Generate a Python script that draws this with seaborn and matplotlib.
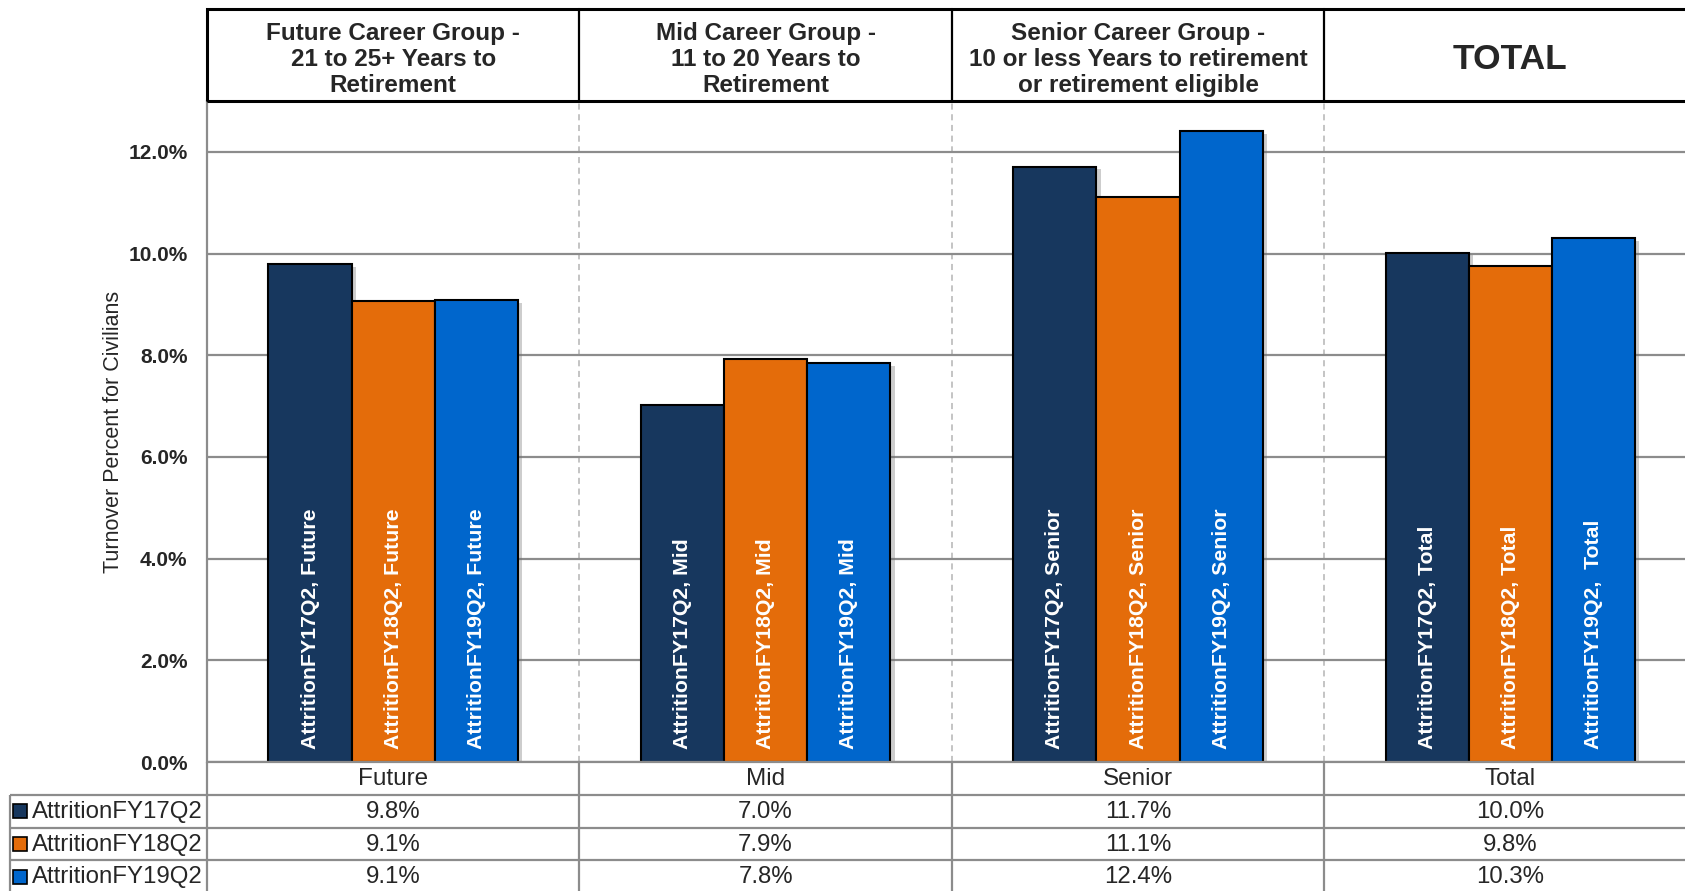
import matplotlib
matplotlib.use("Agg")
import matplotlib.pyplot as plt
import matplotlib.patheffects as pe
from matplotlib.patches import Rectangle
import seaborn as sns
import pandas as pd

# ---- data ---------------------------------------------------------------
groups = ["Future", "Mid", "Senior", "Total"]
series = ["AttritionFY17Q2", "AttritionFY18Q2", "AttritionFY19Q2"]
fy17q2 = [9.79, 7.02, 11.71, 10.02]
fy18q2 = [9.06, 7.93, 11.12, 9.76]
fy19q2 = [9.09, 7.84, 12.41, 10.30]

bar_labels = [
    ["AttritionFY17Q2, Future", "AttritionFY17Q2, Mid", "AttritionFY17Q2, Senior", "AttritionFY17Q2, Total"],
    ["AttritionFY18Q2, Future", "AttritionFY18Q2, Mid", "AttritionFY18Q2, Senior", "AttritionFY18Q2, Total"],
    ["AttritionFY19Q2, Future", "AttritionFY19Q2, Mid", "AttritionFY19Q2, Senior", "AttritionFY19Q2,  Total"],
]
header_titles = [
    "Future Career Group -\n21 to 25+ Years to\nRetirement",
    "Mid Career Group -\n11 to 20 Years to\nRetirement",
    "Senior Career Group -\n10 or less Years to retirement\nor retirement eligible",
]
total_title = "TOTAL"
y_ticks = [0, 2, 4, 6, 8, 10, 12]
y_label = "Turnover Percent for Civilians"

colors = ["#17375E", "#E46C0A", "#0066CC"]

values = [fy17q2, fy18q2, fy19q2]
df = pd.DataFrame(
    [(g, s, v) for s, vals in zip(series, values) for g, v in zip(groups, vals)],
    columns=["group", "series", "value"],
)

# ---- figure / layout (pixel based) -------------------------------------
sns.set_style("white")
plt.rcParams["font.family"] = ["Liberation Sans", "DejaVu Sans"]

W, H = 1685, 891
fig = plt.figure(figsize=(W / 100, H / 100), dpi=100)
fig.patch.set_facecolor("white")

COL = 372.4          # width of one category column in px
LEFT = 207.0         # left edge of the plotting area in px
RIGHT = LEFT + 4 * COL


def px_axes(l, t, r, b):
    return fig.add_axes([l / W, 1 - b / H, (r - l) / W, (b - t) / H])


GRID = "#8c8c8c"

# ---- main bar chart -----------------------------------------------------
ax = px_axes(LEFT, 101, RIGHT, 762)
sns.barplot(
    data=df, x="group", y="value", hue="series",
    order=groups, hue_order=series, palette=colors,
    width=0.67, gap=0, saturation=1,
    edgecolor="black", linewidth=1.5, legend=False, ax=ax,
)
ax.set_xlim(-0.5, 3.5)
ax.set_ylim(0, 13)
ax.set_yticks(y_ticks)
ax.set_yticklabels([f"{t:.1f}%" for t in y_ticks], fontsize=15, fontweight="bold")
ax.tick_params(axis="y", length=0, pad=14)
ax.tick_params(axis="x", length=0, labelbottom=False)
ax.set_xlabel("")
ax.set_ylabel(y_label, fontsize=15.5)
ax.yaxis.set_label_coords(-0.056, 0.5)
ax.set_axisbelow(True)
ax.yaxis.grid(True, color=GRID, lw=1.6)
for xb in [0.5, 1.5, 2.5]:
    ax.axvline(xb, color="#b4b4b4", lw=1.1, ls=(0, (4, 3)), zorder=0)
for side in ["top", "right", "bottom"]:
    ax.spines[side].set_visible(False)
ax.spines["left"].set_color(GRID)
ax.spines["left"].set_linewidth(1.6)

shadow = [pe.SimplePatchShadow(offset=(3, -2), shadow_rgbFace="#707070", alpha=0.35), pe.Normal()]
for container, labels in zip(ax.containers, bar_labels):
    for bar, text in zip(container, labels):
        bar.set_path_effects(shadow)
        ax.text(
            bar.get_x() + bar.get_width() / 2, 0.26, text,
            rotation=90, ha="center", va="bottom",
            color="white", fontsize=15.3, fontweight="bold",
        )

# ---- header boxes -------------------------------------------------------
hax = px_axes(LEFT, 9, RIGHT, 101)
hax.set_xlim(-0.5, 3.5)
hax.set_ylim(0, 1)
hax.axis("off")
hax.add_patch(Rectangle((-0.5, 0), 4, 1, fill=False, ec="black", lw=2.2, clip_on=False))
for xb in [0.5, 1.5, 2.5]:
    hax.plot([xb, xb], [0, 1], color="black", lw=1.6, clip_on=False)
for i, title in enumerate(header_titles):
    hax.text(i, 0.45, title, ha="center", va="center", fontsize=17.5,
             fontweight="bold", linespacing=1.16)
hax.text(3, 0.455, total_title, ha="center", va="center", fontsize=25.5, fontweight="bold")

# ---- data table ---------------------------------------------------------
TL = 9.0
tax = px_axes(TL, 762, RIGHT, 893)
x0 = -0.5 - (LEFT - TL) / COL
tax.set_xlim(x0, 3.5)
tax.set_ylim(4, 0)
tax.axis("off")

def tline(xs, ys):
    tax.plot(xs, ys, color=GRID, lw=1.6, clip_on=False, solid_capstyle="butt")

tline([-0.5, 3.5], [0, 0])
for r in [1, 2, 3]:
    tline([x0 + 0.002, 3.5], [r, r])
tline([x0 + 0.002, x0 + 0.002], [1, 4])
for xb in [-0.5, 0.5, 1.5, 2.5]:
    tline([xb, xb], [0, 4])

for i, g in enumerate(groups):
    tax.text(i, 0.52, g, ha="center", va="center", fontsize=17.5)

px = 1 / COL
for r, (name, vals, c) in enumerate(zip(series, values, colors), start=1):
    tax.plot([x0 + 10.5 * px], [r + 0.5], marker="s", ms=9.5, mfc=c, mec="black",
             mew=1.2, clip_on=False)
    tax.text(x0 + 23 * px, r + 0.52, name, ha="left", va="center", fontsize=17.3)
    for i, v in enumerate(vals):
        tax.text(i, r + 0.52, f"{v:.1f}%", ha="center", va="center", fontsize=17.3)

fig.savefig("out.png", dpi=100, facecolor="white")
